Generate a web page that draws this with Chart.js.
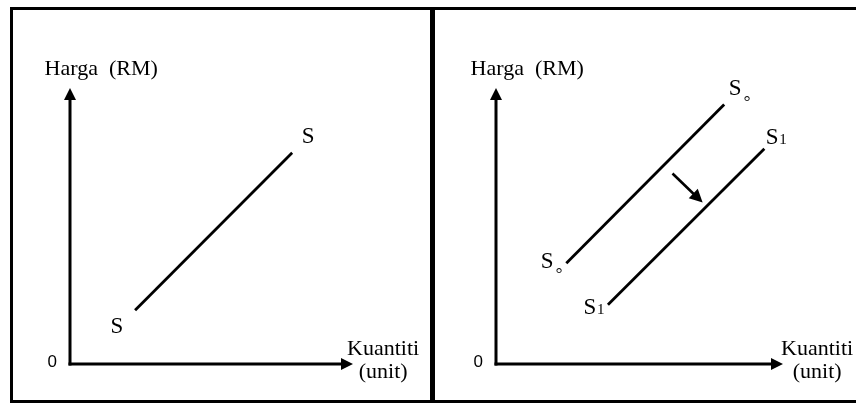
<!DOCTYPE html>
<html>
<head>
<meta charset="utf-8">
<script src="https://cdn.jsdelivr.net/npm/chart.js@4/dist/chart.umd.min.js"></script>
<style>
  html, body { margin: 0; padding: 0; background: #fff; }
  #wrap { position: relative; width: 856px; height: 403px; overflow: hidden; background: #fff; }
  .frame { position: absolute; background: #000; }
  canvas { position: absolute; top: 0; }
</style>
</head>
<body>
<div id="wrap">
  <div class="frame" style="left:10px; top:7px; width:846px; height:3px;"></div>
  <div class="frame" style="left:10px; top:7px; width:3px; height:396px;"></div>
  <div class="frame" style="left:10px; top:400px; width:846px; height:3px;"></div>
  <div class="frame" style="left:430px; top:7px; width:5px; height:396px;"></div>
  <canvas id="left" width="432" height="403" style="left:0px; width:432px; height:403px;"></canvas>
  <canvas id="right" width="424" height="403" style="left:432px; width:424px; height:403px;"></canvas>
</div>
<script>
// ---- data (quantity / price units, axes run 0..10) ----
const axisMax = 10;
const priceTitle = 'Harga  (RM)';
const qtyTitle = 'Kuantiti';
const qtyUnit = '(unit)';
const originLabel = '0';

// left panel: supply curve S
const supplyQ = [2.3, 7.85];
const supplyP = [1.95, 7.65];

// right panel: original supply S0 and shifted supply S1
const supply0Q = [2.45, 7.95];
const supply0P = [3.65, 9.4];
const supply1Q = [3.9, 9.35];
const supply1P = [2.15, 7.8];
// shift arrow
const shiftQ = [6.15, 7.2];
const shiftP = [6.9, 5.85];

const SERIF = '"Liberation Serif", "Times New Roman", serif';
const SANS = '"Liberation Sans", Arial, sans-serif';
const CJK = '"Noto Sans CJK SC", sans-serif';

function pts(qs, ps) { return qs.map((q, i) => ({ x: q, y: ps[i] })); }

function inkText(ctx, text, cx, cy, font) {
  ctx.font = font;
  ctx.textAlign = 'left';
  ctx.textBaseline = 'alphabetic';
  const m = ctx.measureText(text);
  const x = cx - (m.actualBoundingBoxRight - m.actualBoundingBoxLeft) / 2;
  const y = cy + (m.actualBoundingBoxAscent - m.actualBoundingBoxDescent) / 2;
  ctx.fillText(text, x, y);
  return { right: x + m.actualBoundingBoxRight, bottom: y + m.actualBoundingBoxDescent, base: y };
}

function arrow(ctx, x0, y0, x1, y1, width, headLen, headHalf) {
  const a = Math.atan2(y1 - y0, x1 - x0);
  const bx = x1 - Math.cos(a) * headLen, by = y1 - Math.sin(a) * headLen;
  ctx.lineWidth = width;
  ctx.lineCap = 'butt';
  ctx.beginPath();
  ctx.moveTo(x0, y0);
  ctx.lineTo(bx + Math.cos(a) * 1, by + Math.sin(a) * 1);
  ctx.stroke();
  ctx.beginPath();
  ctx.moveTo(x1, y1);
  ctx.lineTo(bx - Math.sin(a) * headHalf, by + Math.cos(a) * headHalf);
  ctx.lineTo(bx + Math.sin(a) * headHalf, by - Math.cos(a) * headHalf);
  ctx.closePath();
  ctx.fill();
}

// label: main letter with optional subscript
function curveLabel(ctx, cx, cy, sub) {
  const f = '23px ' + SERIF;
  const r = inkText(ctx, 'S', cx, cy, f);
  if (sub === '1') {
    ctx.font = '15px ' + SERIF;
    ctx.textAlign = 'left';
    ctx.textBaseline = 'alphabetic';
    ctx.fillText('1', r.right + 1.5, r.base);
  } else if (sub === '。') {
    inkText(ctx, '。', r.right + 6, r.base + 3, '17px ' + CJK);
  }
}

const diagram = {
  id: 'diagram',
  afterDatasetsDraw(chart, args, opts) {
    const ctx = chart.ctx;
    const xs = chart.scales.x, ys = chart.scales.y;
    const ox = xs.getPixelForValue(0), oy = ys.getPixelForValue(0);
    const tx = xs.getPixelForValue(axisMax), ty = ys.getPixelForValue(axisMax);
    ctx.save();
    ctx.fillStyle = '#000';
    ctx.strokeStyle = '#000';
    // axes
    arrow(ctx, ox, oy + 1.5, ox, ty, 3, 12, 6);
    arrow(ctx, ox - 1.5, oy, tx, oy, 3, 12, 6);
    // axis texts
    inkText(ctx, priceTitle, ox + 31, ty - 18, '22px ' + SERIF);
    inkText(ctx, originLabel, ox - 18, oy - 3, '17px ' + SANS);
    inkText(ctx, qtyTitle, tx + opts.qtyDx, oy - 16, '22px ' + SERIF);
    inkText(ctx, qtyUnit, tx + opts.qtyDx, oy + 9, '22px ' + SERIF);
    // shift arrow
    if (opts.shift) {
      const sx0 = xs.getPixelForValue(shiftQ[0]), sy0 = ys.getPixelForValue(shiftP[0]);
      const sx1 = xs.getPixelForValue(shiftQ[1]), sy1 = ys.getPixelForValue(shiftP[1]);
      arrow(ctx, sx0, sy0, sx1, sy1, 2.6, 13, 6.5);
    }
    // curve labels placed next to curve ends
    chart.data.datasets.forEach((ds) => {
      const d = ds.data;
      const a = d[0], b = d[d.length - 1];
      const ax = xs.getPixelForValue(a.x), ay = ys.getPixelForValue(a.y);
      const bx = xs.getPixelForValue(b.x), by = ys.getPixelForValue(b.y);
      curveLabel(ctx, ax + ds.lowOff[0], ay + ds.lowOff[1], ds.sub);
      curveLabel(ctx, bx + ds.highOff[0], by + ds.highOff[1], ds.sub);
    });
    ctx.restore();
  }
};

function scaleRange(sizePx, originPx, tipPx, reverse) {
  const unit = Math.abs(tipPx - originPx) / axisMax;
  if (!reverse) {
    const min = -originPx / unit;
    return { min, max: min + sizePx / unit };
  } else {
    const max = originPx / unit;
    return { min: max - sizePx / unit, max };
  }
}

function build(id, w, originX, tipX, datasets, opts) {
  const xr = scaleRange(w, originX, tipX, false);
  const yr = scaleRange(403, 364, 88, true);
  return new Chart(document.getElementById(id), {
    type: 'scatter',
    data: { datasets },
    options: {
      responsive: false,
      animation: false,
      events: [],
      layout: { padding: 0 },
      plugins: { legend: { display: false }, tooltip: { enabled: false }, diagram: opts },
      scales: {
        x: { type: 'linear', display: false, min: xr.min, max: xr.max },
        y: { type: 'linear', display: false, min: yr.min, max: yr.max }
      }
    },
    plugins: [diagram]
  });
}

function lineDs(label, qs, ps, sub, lowOff, highOff) {
  return {
    label, data: pts(qs, ps), showLine: true, borderColor: '#000', borderWidth: 2.8,
    pointRadius: 0, fill: false, sub, lowOff, highOff
  };
}

build('left', 432, 70, 353, [
  lineDs('S', supplyQ, supplyP, '', [-18, 15], [16, -17])
], { qtyDx: 30, shift: false });

build('right', 424, 64, 351, [
  lineDs('S0', supply0Q, supply0P, '。', [-19, -3], [11, -17]),
  lineDs('S1', supply1Q, supply1P, '1', [-18, 2], [8, -12])
], { qtyDx: 34, shift: true });
</script>
</body>
</html>
